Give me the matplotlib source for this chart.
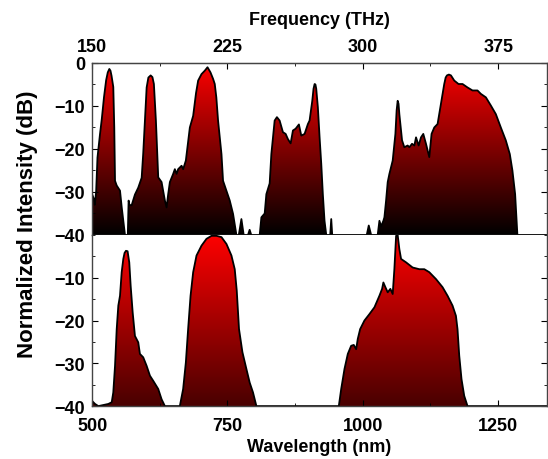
import numpy as np
import matplotlib
matplotlib.use("Agg")
import matplotlib.pyplot as plt
from matplotlib.colors import LinearSegmentedColormap
from matplotlib.ticker import MultipleLocator

plt.rcParams['font.family'] = ['Liberation Sans', 'DejaVu Sans']
plt.rcParams['font.weight'] = 'bold'

# top spectrum (wavelength nm, dB)
top_wl = [500, 503, 505, 507.5, 510, 514.7, 518, 522, 526, 529, 531.9, 534, 536, 539.2, 541,
          542.4, 545.5, 551.6, 554.7, 557.7, 560.8, 566, 567.5, 569, 573.1, 579.2, 585.3,
          591.6, 594.5, 597.7, 600.8, 604, 608.2, 611.5, 614.2, 617.9, 622.2, 628.4, 634.5,
          637.6, 640.6, 643.7, 649.8, 652.9, 656.1, 659, 665.3, 668.2, 673.2, 680.6, 686.7,
          692, 695.9, 702.1, 708.2, 713.2, 718.7, 723.5, 726.6, 729.5, 732.7, 739, 741.9,
          748.2, 754.3, 760.4, 766.6, 771, 775.8, 780, 788, 791, 794, 809.6, 812.7, 818.8,
          821.9, 828, 831.1, 837.2, 841.4, 846.4, 852.5, 857.5, 861.7, 866.7, 871, 875.9,
          882, 886.4, 892.5, 898.6, 901.7, 906.7, 909, 911, 912.5, 914, 917, 920.2, 923.3,
          926.2, 929.3, 932.5, 939.8, 941.7, 943.5, 1007.3, 1011, 1015.4, 1027.5, 1030.7,
          1033.8, 1038, 1039.9, 1043, 1046, 1049.1, 1055.2, 1060.2, 1062.5, 1064.4, 1066,
          1067.5, 1072.5, 1076.7, 1082.8, 1086, 1090.9, 1095.2, 1098.3, 1103.1, 1107.5,
          1111.7, 1116.7, 1122.8, 1127, 1132, 1138.1, 1144.4, 1150.4, 1153, 1155.4, 1159,
          1162.8, 1168.9, 1176.8, 1184.2, 1193.4, 1202.6, 1211.8, 1218.1, 1227.3, 1236.5,
          1245.7, 1254.9, 1264.1, 1271.5, 1276.3, 1281.3, 1285.5, 1340]
top_db = [-30.5, -31.5, -33, -30, -22, -16.5, -13, -8, -4, -2.2, -1.4, -1.8, -3, -5.6, -15,
          -27.4, -28.5, -29.7, -33.5, -36.7, -40, -40, -32, -33, -33.1, -30.6, -29,
          -26.7, -21, -13.4, -5.7, -3.4, -2.9, -3.3, -4.9, -13.4, -26.6, -27.7, -32,
          -33.6, -30.5, -27.7, -25.8, -24.7, -25.8, -24.7, -23.9, -24.7, -22.7, -15, -12.3,
          -7, -4.1, -2.6, -1.8, -1, -2.2, -3.7, -4.9, -8, -13.4, -21.2, -27.4,
          -29.7, -32, -35.1, -40, -40, -36.3, -40, -40, -38.8, -40, -40, -35.9, -35,
          -30.5, -28, -21.2, -13.4, -12.6, -13.4, -16.1, -16.5, -17.7, -18.7, -15.7, -15.3,
          -14.3, -16.9, -16.5, -14.2, -13.4, -8.8, -6, -4.9, -5, -6, -10.3, -17.3, -23.5,
          -30.5, -36.7, -40, -40, -36.3, -40, -40, -37.8, -40, -40, -36.7,
          -38, -36.7, -35.9, -32, -27.7, -25.8, -22.7, -16.5, -11, -8.8, -9.5,
          -11.9, -18, -19.6, -19.2, -19.6, -18.8, -19.2, -17.3, -19.2, -17.3,
          -16.5, -18.8, -21.9, -16.5, -15, -14.2, -9.5, -4.9, -3.4, -2.9, -2.7,
          -2.9, -4.1, -4.9, -4.9, -5.7, -6.4, -6.4, -7.2, -8, -9.9,
          -11.9, -15, -18, -21.2, -25, -30.5, -40, -40]

# bottom spectrum (wavelength nm, dB)
bot_wl = [500, 505.5, 511.6, 530, 536.3, 539.2, 542.4, 545.5, 548.5, 551.6, 554.7, 557.7,
          560, 562.6, 565.6, 568.7, 571.3, 575, 579.2, 585.3, 588.4, 594.5, 600.8, 606.9, 613,
          622.2, 628.4, 634.5, 662.1, 668.2, 673.2, 677.4, 681.9, 686.7, 692.9, 702.1,
          711.3, 720.6, 729.8, 739, 748.2, 757.4, 763.5, 767.2, 771.4, 777.7, 785, 791.1,
          797.2, 803.5, 955.7, 960.1, 966.2, 972.3, 978.5, 983.3, 987.7, 990.7, 995.1,
          1003, 1012.2, 1021.5, 1030.7, 1035.6, 1038, 1041.7, 1046, 1050.9, 1055.2, 1058.3,
          1061.5, 1064.4, 1067.5, 1070.7, 1079.9, 1092, 1104.4, 1113.6, 1122.8, 1135.1,
          1147.3, 1156.5, 1165.7, 1172, 1174.9, 1178.1, 1182.3, 1187.3, 1193.4, 1340]
bot_db = [-38.8, -39.5, -40, -39.5, -39.1, -36.8, -30.6, -22, -16.5, -14.2, -8.7, -5.6,
          -4.2, -3.7, -3.8, -6.4, -11.9, -18.1, -23.6, -25.1, -27.8, -28.6, -30.6, -32.9, -34.1,
          -36, -38.4, -40, -40, -36, -29.8, -22, -14.2, -8.7, -4.8, -2.5,
          -0.9, -0.2, -0.2, -0.5, -2.1, -4.8, -8, -13, -22, -27.4, -31.3, -34.5,
          -36.8, -40, -40, -36, -31.3, -27.8, -25.9, -25.7, -26.7, -24.3, -22,
          -20, -18.5, -16.9, -14.2, -12.6, -11.1, -12.2, -13.4, -12.6, -13.8, -8,
          -0.2, 0, -3.3, -5.6, -6.4, -7.6, -8, -8, -8.7, -10.3,
          -12.2, -14.2, -16.5, -18.9, -22, -28.2, -33.7, -37.6, -40, -40]

wl_ticks = [500, 750, 1000, 1250]
thz_ticks = [150, 225, 300, 375]
db_ticks_top = [0, -10, -20, -30, -40]
db_ticks_bot = [-10, -20, -30, -40]

cmap = LinearSegmentedColormap.from_list('blackred', ['black', '#ff0000'])

fig = plt.figure(figsize=(5.48, 4.60), dpi=100)
ax1 = fig.add_axes([0.168, 0.487, 0.830, 0.374])
ax2 = fig.add_axes([0.168, 0.115, 0.830, 0.372])


def draw_spectrum(ax, wl, db, vmin):
    poly = ax.fill_between(wl, db, -40, facecolor='none', edgecolor='none')
    grad = np.linspace(0, 1, 256).reshape(-1, 1)
    im = ax.imshow(grad, extent=[500, 1340, vmin, 0], origin='lower', aspect='auto',
                   cmap=cmap, zorder=1)
    im.set_clip_path(poly.get_paths()[0], transform=ax.transData)
    ax.plot(wl, db, color='black', lw=1.3, zorder=2, solid_joinstyle='round')


draw_spectrum(ax1, top_wl, top_db, -40)
draw_spectrum(ax2, bot_wl, bot_db, -56)

for ax in (ax1, ax2):
    ax.set_xlim(500, 1340)
    ax.set_ylim(-40, 0)
    ax.yaxis.set_minor_locator(MultipleLocator(5))
    ax.xaxis.set_minor_locator(MultipleLocator(125))
    ax.tick_params(which='both', direction='in', right=True, labelsize=13)
    ax.tick_params(which='major', length=4)
    ax.tick_params(which='minor', length=2.5)
    ax.tick_params(axis='y', pad=5)
    for s in ax.spines.values():
        s.set_color('#444444')
        s.set_linewidth(1.0)

ax1.set_yticks(db_ticks_top)
ax1.tick_params(axis='x', which='both', bottom=False, labelbottom=False)
ax2.set_yticks(db_ticks_bot)
ax2.set_xticks(wl_ticks)
ax2.tick_params(axis='x', which='both', top=False, pad=8)
ax2.spines['top'].set_visible(False)

sec = ax1.secondary_xaxis('top', functions=(lambda x: 150 + (x - 500) * 0.3,
                                             lambda f: 500 + (f - 150) / 0.3))
sec.set_xticks(thz_ticks)
sec.xaxis.set_minor_locator(MultipleLocator(37.5))
sec.tick_params(which='both', direction='in', labelsize=13, pad=6)
sec.tick_params(which='major', length=4)
sec.tick_params(which='minor', length=2.5)
sec.spines['top'].set_color('#444444')
sec.set_xlabel('Frequency (THz)', fontsize=13, fontweight='bold', labelpad=10)

ax2.set_xlabel('Wavelength (nm)', fontsize=13, fontweight='bold', labelpad=3)
fig.text(0.051, 0.512, 'Normalized Intensity (dB)', rotation=90, ha='center', va='center',
         fontsize=16, fontweight='bold')

fig.savefig('out.png', dpi=100)
